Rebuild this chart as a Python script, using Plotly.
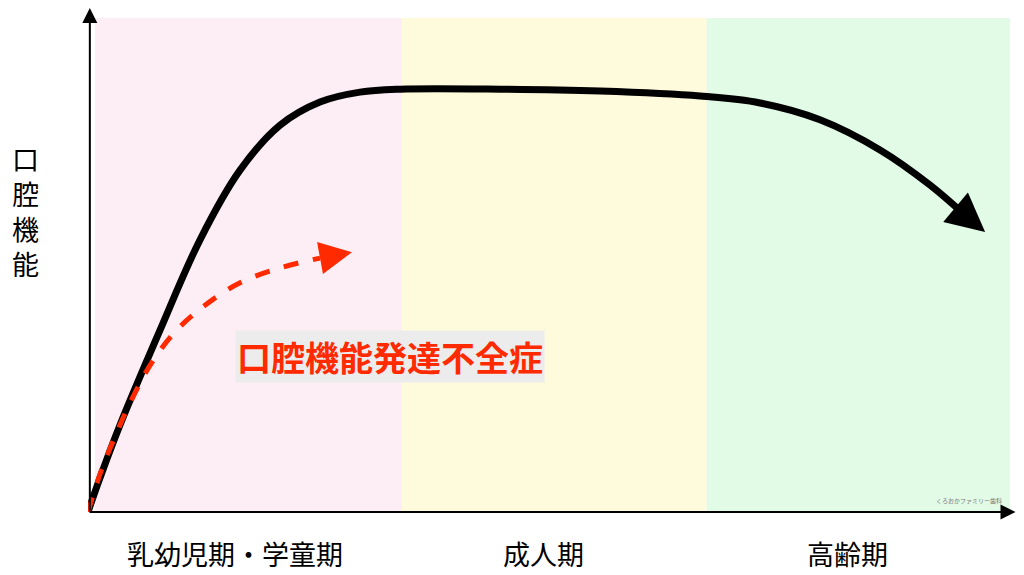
import plotly.graph_objects as go

stage_labels = ["乳幼児期・学童期", "成人期", "高齢期"]
band_edges = [0.76, 34.06, 67.1, 100]
band_colors = ["#fdeef5", "#fefadc", "#e2fbe6"]

black_x = [0, 1.3, 3.47, 7.81, 12.15, 16.49, 20.82, 25.16, 29.5, 33.84, 44.69, 55.53, 66.38, 72.89, 79.39, 85.9, 91.32, 95.12]
black_y = [0, 6.9, 17.6, 36.8, 55.1, 69.2, 78.3, 83.0, 85.0, 85.6, 85.6, 85.2, 84.2, 82.8, 79.4, 73.3, 66.2, 60.1]
black_tip = (97.3, 56.7)

red_x = [0, 1.4, 3.1, 4.8, 6.9, 9.6, 12.8, 16.49, 20.82, 25.16]
red_y = [0, 8.2, 16.0, 23.0, 30.2, 36.8, 42.0, 46.4, 49.4, 51.4]
red_tip = (28.63, 52.6)

FONT = "Noto Sans CJK JP"
fig = go.Figure()
for i in range(3):
    fig.add_shape(type="rect", xref="x", yref="y", x0=band_edges[i], x1=band_edges[i+1],
                  y0=0, y1=100, fillcolor=band_colors[i], line_width=0, layer="below")

fig.add_trace(go.Scatter(x=black_x, y=black_y, mode="lines", line=dict(color="black", width=7, shape="spline"), hoverinfo="skip"))
fig.add_trace(go.Scatter(x=red_x, y=red_y, mode="lines", line=dict(color="#ff2a00", width=5, dash="dash", shape="spline"), hoverinfo="skip"))

fig.add_annotation(x=black_tip[0], y=black_tip[1], ax=black_x[-1], ay=black_y[-1], xref="x", yref="y", axref="x", ayref="y",
                   showarrow=True, arrowhead=2, arrowsize=1.1, arrowwidth=7, arrowcolor="black", text="")
fig.add_annotation(x=red_tip[0], y=red_tip[1], ax=red_x[-1], ay=red_y[-1], xref="x", yref="y", axref="x", ayref="y",
                   showarrow=True, arrowhead=2, arrowsize=1.3, arrowwidth=5, arrowcolor="#ff2a00", text="")
fig.add_annotation(x=0.2, y=102, ax=0.2, ay=0, xref="x", yref="y", axref="x", ayref="y",
                   showarrow=True, arrowhead=2, arrowsize=1.5, arrowwidth=2, arrowcolor="black", text="")
fig.add_annotation(x=100.6, y=0, ax=0, ay=0, xref="x", yref="y", axref="x", ayref="y",
                   showarrow=True, arrowhead=2, arrowsize=1.5, arrowwidth=2, arrowcolor="black", text="")

fig.add_annotation(x=-0.068, y=0.61, xref="paper", yref="paper", xanchor="center", yanchor="middle",
                   text="口<br>腔<br>機<br>能", showarrow=False,
                   font=dict(family=FONT, size=27, color="black"))
fig.add_annotation(x=32.75, y=31.4, xref="x", yref="y", text="<b>口腔機能発達不全症</b>", showarrow=False,
                   font=dict(family=FONT, size=34, color="#ff2a00"), bgcolor="#ececec")
for lbl, cx in zip(stage_labels, [0.159, 0.494, 0.824]):
    fig.add_annotation(x=cx, y=-0.083, xref="paper", yref="paper", xanchor="center", yanchor="middle",
                       text=lbl, showarrow=False,
                       font=dict(family=FONT, size=27, color="black"))
fig.add_annotation(x=95.5, y=2.4, xref="x", yref="y", text="くろおかファミリー歯科", showarrow=False,
                   font=dict(family=FONT, size=6, color="#777"))

fig.update_layout(width=1024, height=575, margin=dict(l=80, r=22, t=10, b=71),
                  plot_bgcolor="white", paper_bgcolor="white", showlegend=False)
fig.update_xaxes(range=[0, 100], visible=False)
fig.update_yaxes(range=[0, 100], visible=False)
fig.write_html("out.html")
